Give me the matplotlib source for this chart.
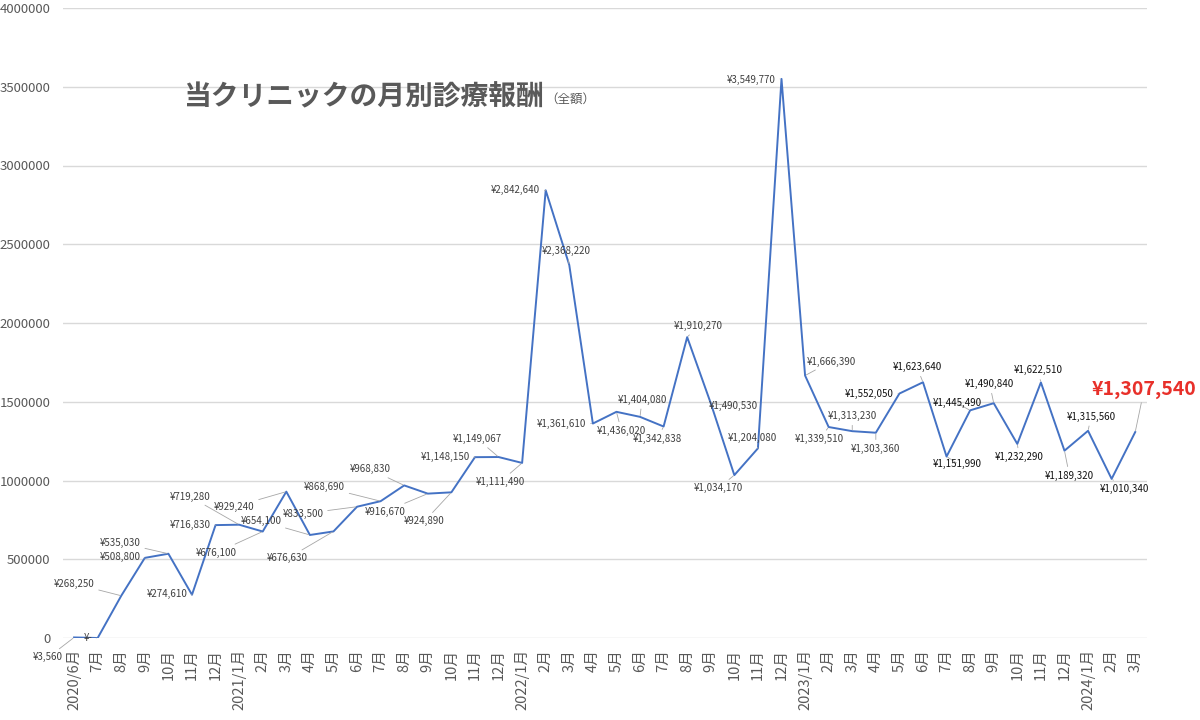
import matplotlib
matplotlib.use("Agg")
import matplotlib.pyplot as plt
import numpy as np

plt.rcParams['font.family'] = ['Noto Sans CJK JP', 'DejaVu Sans']

# 月ラベル
months = ["2020/6月", "7月", "8月", "9月", "10月", "11月", "12月",
          "2021/1月", "2月", "3月", "4月", "5月", "6月", "7月", "8月", "9月", "10月", "11月", "12月",
          "2022/1月", "2月", "3月", "4月", "5月", "6月", "7月", "8月", "9月", "10月", "11月", "12月",
          "2023/1月", "2月", "3月", "4月", "5月", "6月", "7月", "8月", "9月", "10月", "11月", "12月",
          "2024/1月", "2月", "3月"]

# 診療報酬（円）
revenue = [3560, 0, 268250, 508800, 535030, 274610, 716830,
           719280, 676100, 929240, 654100, 676630, 833500, 868690, 968830, 916670, 924890, 1148150, 1149067,
           1111490, 2842640, 2368220, 1361610, 1436020, 1404080, 1342838, 1910270, 1490530, 1034170, 1204080, 3549770,
           1666390, 1339510, 1313230, 1303360, 1552050, 1623640, 1151990, 1445490, 1490840, 1232290, 1622510, 1189320,
           1315560, 1010340, 1307540]

# ラベルの位置（点からのずれ, ピクセル）
label_dx = [-26, -10, -47, -25, -48, -25, -25, -49, -46, -52, -49, -46, -54, -56, -34, -43, -27, -30, -21,
            -22, -30, -3, -31, 5, 2, -6, 11, 23, -16, -6, -30, 26, -9, 0, 0, -30, -6, 11, -13, -4, 2, -3, 5,
            3, 13, 9]
label_dy = [-20, 0, 12, 1, 11, 1, 0, 28, -21, -15, 14, -27, -7, 14, 16, -18, -29, 0, 18,
            -19, 0, 14, 0, -19, 17, -12, 11, -3, -13, 10, -1, 14, -12, 15, -16, 0, 15, -7, 7, 19, -13, 12, -25,
            14, -10, 43]

def yen(v):
    if v == 0:
        return "¥-"
    return "¥{:,}".format(v)

fig = plt.figure(figsize=(12, 7.2), dpi=100)
ax = fig.add_axes([63 / 1200, 82 / 720, 1084 / 1200, 630 / 720])

x = np.arange(len(revenue))
ax.plot(x, revenue, color="#4472c4", linewidth=1.4, zorder=3)

ax.set_ylim(0, 4000000)
ax.set_xlim(-0.47, 45.5)
ax.set_yticks(np.arange(0, 4000001, 500000))
ax.set_yticklabels([str(v) for v in range(0, 4000001, 500000)], fontsize=9.5, color="#595959")
ax.set_xticks(x)
ax.set_xticklabels(months, rotation=90, fontsize=10.5, color="#595959")
ax.tick_params(axis="both", length=0)
ax.tick_params(axis="x", pad=8)
ax.tick_params(axis="y", pad=9)
ax.grid(axis="y", color="#d9d9d9", linewidth=1)
ax.set_axisbelow(True)
for s in ax.spines.values():
    s.set_visible(False)

# データラベル
for i, v in enumerate(revenue):
    last = i == len(revenue) - 1
    if last:
        col, fs, fw = "#e8302a", 14, "bold"
    elif i >= 35:
        col, fs, fw = "#111111", 7, "normal"
    else:
        col, fs, fw = "#404040", 7, "normal"
    ax.annotate(yen(v), xy=(i, v), xytext=(label_dx[i], label_dy[i]),
                textcoords="offset pixels", ha="center", va="center",
                fontsize=fs, color=col, fontweight=fw, zorder=4,
                arrowprops=dict(arrowstyle="-", color="#a6a6a6", lw=0.6,
                                shrinkA=1, shrinkB=1))

# タイトル
fig.text(183 / 1200, 1 - 97 / 720, "当クリニックの月別診療報酬", fontsize=20,
         fontweight="bold", color="#595959", va="center", ha="left")
fig.text(545 / 1200, 1 - 99 / 720, "（全額）", fontsize=9, color="#595959",
         va="center", ha="left")

fig.savefig("out.png", dpi=100)
